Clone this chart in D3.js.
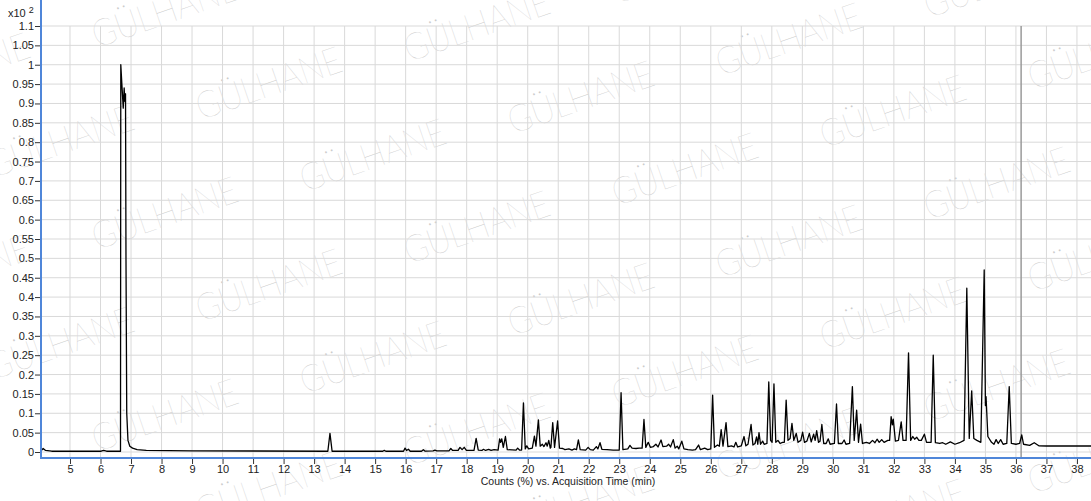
<!DOCTYPE html>
<html>
<head>
<meta charset="utf-8">
<script src="https://cdn.jsdelivr.net/npm/d3@7"></script>
<style>
  html, body { margin: 0; padding: 0; background: #fff; }
  svg { display: block; }
  .tick text { font-family: "Liberation Sans", Arial, sans-serif; font-size: 11px; fill: #222; }
  .tick line { stroke: #333; }
</style>
</head>
<body>
<div id="chart"></div>
<script>
// Chromatogram trace: [minutes, counts (x10^2)]
const trace = [
  [4.05, 0.003], [4.12, 0.009], [4.2, 0.004], [4.4, 0.002],
  [6.02, 0.002], [6.1, 0.004], [6.2, 0.002], [6.655, 0.002],
  [6.665, 1.0], [6.70, 0.95], [6.745, 0.888], [6.775, 0.94], [6.80, 0.905], [6.82, 0.925],
  [6.835, 0.5], [6.86, 0.1], [6.9, 0.03], [6.96, 0.015], [7.05, 0.01], [7.2, 0.006], [7.5, 0.004], [9, 0.003],
  [13.45, 0.002], [13.52, 0.048], [13.59, 0.002],
  [15.25, 0.002], [15.3, 0.004], [15.35, 0.002],
  [15.93, 0.002], [15.98, 0.01], [16.03, 0.004], [16.09, 0.007], [16.15, 0.002],
  [16.52, 0.002], [16.58, 0.006], [16.64, 0.002],
  [16.9, 0.003], [16.96, 0.005], [17.02, 0.003],
  [17.42, 0.003], [17.48, 0.009], [17.54, 0.004],
  [17.72, 0.004], [17.78, 0.012], [17.85, 0.006], [17.92, 0.012], [17.99, 0.004],
  [18.24, 0.004], [18.31, 0.035], [18.38, 0.005],
  [18.5, 0.004], [18.55, 0.007], [18.62, 0.004], [18.72, 0.007], [18.8, 0.004], [18.9, 0.006],
  [19.03, 0.005], [19.08, 0.034], [19.11, 0.025], [19.15, 0.034], [19.2, 0.012], [19.27, 0.04], [19.33, 0.006],
  [19.62, 0.005], [19.67, 0.01], [19.73, 0.005],
  [19.8, 0.005], [19.86, 0.127], [19.92, 0.008], [19.97, 0.016], [20.03, 0.008],
  [20.15, 0.01], [20.22, 0.041], [20.27, 0.015], [20.35, 0.083], [20.41, 0.015],
  [20.48, 0.02], [20.53, 0.014], [20.6, 0.024], [20.64, 0.015], [20.69, 0.03], [20.74, 0.01],
  [20.76, 0.012], [20.82, 0.076], [20.88, 0.012], [20.98, 0.08], [21.04, 0.01],
  [21.15, 0.009], [21.22, 0.006], [21.35, 0.008], [21.45, 0.005], [21.53, 0.008],
  [21.6, 0.006], [21.66, 0.031], [21.72, 0.006],
  [21.9, 0.005], [21.98, 0.012], [22.05, 0.006], [22.15, 0.005], [22.25, 0.014], [22.3, 0.008], [22.37, 0.024], [22.43, 0.007],
  [22.6, 0.006], [22.8, 0.005], [23.0, 0.005], [23.06, 0.153], [23.12, 0.006],
  [23.28, 0.008], [23.35, 0.017], [23.42, 0.01], [23.55, 0.009], [23.65, 0.01],
  [23.75, 0.01], [23.81, 0.084], [23.87, 0.012], [23.95, 0.025], [24.02, 0.012],
  [24.12, 0.014], [24.2, 0.02], [24.27, 0.013], [24.37, 0.031], [24.43, 0.014],
  [24.55, 0.015], [24.62, 0.02], [24.68, 0.013], [24.77, 0.032], [24.83, 0.01],
  [24.9, 0.015], [24.95, 0.008], [25.05, 0.028], [25.12, 0.008],
  [25.25, 0.006], [25.4, 0.005], [25.5, 0.006], [25.6, 0.018], [25.66, 0.006], [25.8, 0.01], [25.9, 0.006],
  [26.0, 0.008], [26.06, 0.147], [26.12, 0.012],
  [26.22, 0.018], [26.28, 0.015], [26.34, 0.058], [26.4, 0.015], [26.5, 0.076], [26.56, 0.014],
  [26.68, 0.016], [26.76, 0.013], [26.82, 0.025], [26.88, 0.013], [27.0, 0.016], [27.09, 0.04], [27.15, 0.016],
  [27.22, 0.02], [27.32, 0.071], [27.38, 0.018], [27.45, 0.022], [27.5, 0.039], [27.54, 0.02], [27.58, 0.05], [27.63, 0.02],
  [27.7, 0.028], [27.75, 0.02], [27.84, 0.022], [27.9, 0.181], [27.96, 0.03], [28.01, 0.025], [28.07, 0.176], [28.13, 0.025],
  [28.2, 0.03], [28.27, 0.022], [28.35, 0.025], [28.41, 0.025], [28.47, 0.134], [28.53, 0.03],
  [28.6, 0.035], [28.66, 0.074], [28.72, 0.03], [28.8, 0.048], [28.86, 0.025], [28.95, 0.03], [29.01, 0.051], [29.07, 0.025],
  [29.15, 0.028], [29.23, 0.048], [29.29, 0.026], [29.37, 0.046], [29.42, 0.03], [29.47, 0.055], [29.53, 0.025],
  [29.58, 0.028], [29.64, 0.071], [29.7, 0.022], [29.78, 0.022], [29.85, 0.034], [29.91, 0.02], [30.05, 0.022],
  [30.12, 0.124], [30.18, 0.022], [30.3, 0.022], [30.37, 0.031], [30.43, 0.02], [30.55, 0.022],
  [30.64, 0.169], [30.7, 0.03], [30.78, 0.108], [30.84, 0.025], [30.91, 0.072], [30.97, 0.022],
  [31.1, 0.025], [31.2, 0.022], [31.3, 0.03], [31.38, 0.024], [31.45, 0.033], [31.52, 0.025], [31.6, 0.032], [31.68, 0.025], [31.8, 0.03],
  [31.86, 0.03], [31.91, 0.091], [31.95, 0.07], [31.98, 0.085], [32.05, 0.028], [32.15, 0.03],
  [32.24, 0.078], [32.3, 0.03], [32.4, 0.03], [32.48, 0.256], [32.55, 0.03],
  [32.62, 0.04], [32.68, 0.033], [32.75, 0.038], [32.82, 0.03], [32.9, 0.03], [33.0, 0.046], [33.07, 0.025],
  [33.22, 0.025], [33.29, 0.25], [33.36, 0.024],
  [33.5, 0.022], [33.6, 0.024], [33.7, 0.02], [33.85, 0.026], [34.0, 0.02], [34.15, 0.024], [34.3, 0.03],
  [34.39, 0.423], [34.47, 0.035], [34.55, 0.158], [34.62, 0.035], [34.72, 0.03], [34.85, 0.025],
  [34.96, 0.47], [35.0, 0.12], [35.02, 0.143], [35.08, 0.04], [35.2, 0.025],
  [35.28, 0.02], [35.35, 0.032], [35.42, 0.022], [35.5, 0.032], [35.58, 0.02], [35.7, 0.022],
  [35.78, 0.169], [35.85, 0.022], [36.0, 0.02], [36.12, 0.022], [36.19, 0.044], [36.25, 0.02],
  [36.45, 0.017], [36.6, 0.024], [36.75, 0.016], [37.0, 0.0155], [38.5, 0.0155]
];

const xTicks = [5, 6, 7, 8, 9, 10, 11, 12, 13, 14, 15, 16, 17, 18, 19, 20, 21, 22, 23, 24, 25, 26, 27, 28, 29, 30, 31, 32, 33, 34, 35, 36, 37, 38];
const yTicks = [0, 0.05, 0.1, 0.15, 0.2, 0.25, 0.3, 0.35, 0.4, 0.45, 0.5, 0.55, 0.6, 0.65, 0.7, 0.75, 0.8, 0.85, 0.9, 0.95, 1, 1.05, 1.1];
const markerTime = 36.17;
const xTitle = "Counts (%) vs. Acquisition Time (min)";
const watermark = "GÜLHANE";

const width = 1091;
const height = 501;
const plot = { left: 41, right: 1091, top: 26, bottom: 452, axisY: 458 };

const x = d3.scaleLinear().domain([4.05, 38.46]).range([plot.left, plot.right]);
const y = d3.scaleLinear().domain([0, 1.1]).range([plot.bottom, plot.top]);

const svg = d3.select('#chart').append('svg')
  .attr('width', width)
  .attr('height', height);

// watermark tiles (background stamp)
const wm = svg.append('g').attr('class', 'watermark');
for (let r = -3; r < 9; r++) {
  for (let c = -2; c < 5; c++) {
    const px = 97 + 104 * r + 312 * c;
    const py = 48 + 72 * r + 14 * c;
    if (px < -200 || px > width + 20 || py < -20 || py > height + 60) continue;
    wm.append('text')
      .attr('transform', `translate(${px},${py}) rotate(-19)`)
      .attr('font-family', 'Lato, "Open Sans", sans-serif')
      .attr('font-weight', 200)
      .attr('font-size', 37)
      .attr('textLength', 152)
      .attr('lengthAdjust', 'spacingAndGlyphs')
      .attr('fill', '#cccccc')
      .text(watermark);
  }
}

// gridlines
svg.append('g')
  .selectAll('line')
  .data(yTicks)
  .join('line')
  .attr('x1', plot.left).attr('x2', plot.right)
  .attr('y1', (d) => y(d)).attr('y2', (d) => y(d))
  .attr('stroke', '#d9d9d9').attr('stroke-width', 1);

svg.append('g')
  .selectAll('line')
  .data(xTicks)
  .join('line')
  .attr('x1', (d) => x(d)).attr('x2', (d) => x(d))
  .attr('y1', plot.top).attr('y2', plot.axisY)
  .attr('stroke', '#d9d9d9').attr('stroke-width', 1);

// axes
const yAxis = d3.axisLeft(y).tickValues(yTicks).tickFormat(d3.format('~g')).tickSize(5).tickPadding(1);
svg.append('g')
  .attr('transform', `translate(${plot.left - 1},0)`)
  .call(yAxis)
  .call((g) => g.select('.domain').remove());

const xAxis = d3.axisBottom(x).tickValues(xTicks).tickFormat(d3.format('d')).tickSize(5).tickPadding(1);
svg.append('g')
  .attr('transform', `translate(0,${plot.axisY + 1})`)
  .call(xAxis)
  .call((g) => g.select('.domain').remove());

// marker line
svg.append('line')
  .attr('x1', x(markerTime)).attr('x2', x(markerTime))
  .attr('y1', plot.top).attr('y2', plot.axisY)
  .attr('stroke', '#9a9a9a').attr('stroke-width', 1.5);

// trace
const line = d3.line().x((d) => x(d[0])).y((d) => y(d[1]));
svg.append('path')
  .datum(trace)
  .attr('d', line)
  .attr('fill', 'none')
  .attr('stroke', '#000')
  .attr('stroke-width', 1.3)
  .attr('stroke-linejoin', 'round');

// blue frame lines
svg.append('line')
  .attr('x1', plot.left).attr('x2', plot.left)
  .attr('y1', 0).attr('y2', plot.axisY + 1)
  .attr('stroke', '#4f86d9').attr('stroke-width', 2);
svg.append('line')
  .attr('x1', plot.left).attr('x2', width)
  .attr('y1', plot.axisY).attr('y2', plot.axisY)
  .attr('stroke', '#4f86d9').attr('stroke-width', 2);

// labels
const scaleLabel = svg.append('text')
  .attr('x', 8).attr('y', 17)
  .attr('font-family', 'Liberation Sans, Arial, sans-serif')
  .attr('font-size', 11).attr('fill', '#222');
scaleLabel.append('tspan').text('x10');
scaleLabel.append('tspan').attr('dx', 3).attr('dy', -4).attr('font-size', 9).text('2');

svg.append('text')
  .attr('x', 568).attr('y', 485)
  .attr('text-anchor', 'middle')
  .attr('font-family', 'Liberation Sans, Arial, sans-serif')
  .attr('font-size', 10.5).attr('fill', '#222')
  .text(xTitle);
</script>
</body>
</html>
